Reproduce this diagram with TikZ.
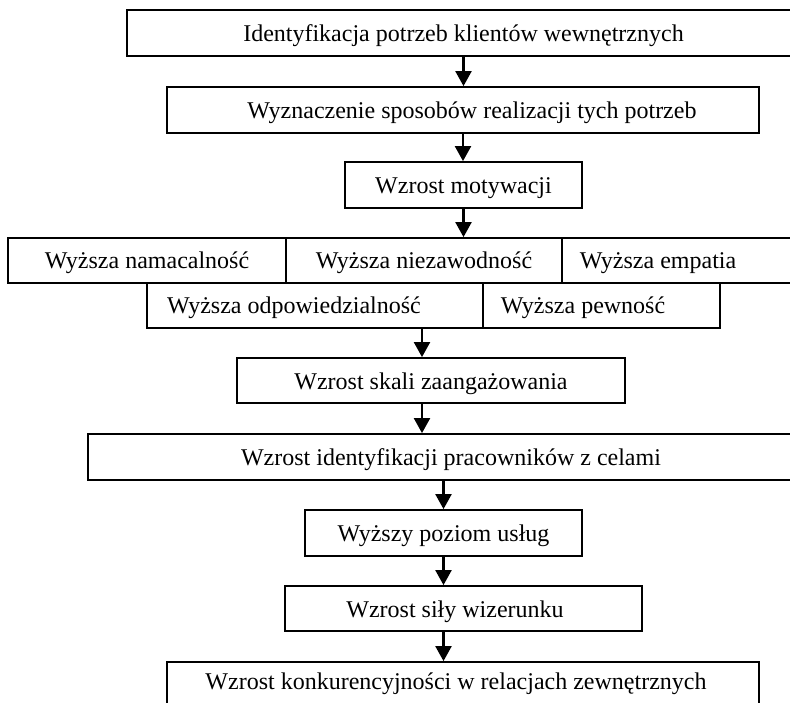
\documentclass[tikz,border=0pt]{standalone}
\usepackage{fontspec}
\setmainfont{Liberation Serif}
\usetikzlibrary{arrows.meta}
\begin{document}
\begin{tikzpicture}[x=1pt,y=-1pt,
  font=\fontsize{24}{28}\selectfont,
  box/.style={draw,line width=1.8pt,inner sep=0pt,text height=19pt,text depth=2pt},
  txt/.style={inner sep=0pt,text height=19pt,text depth=2pt},
  arr/.style={-{Triangle[length=15pt,width=16pt]},line width=2.2pt}]
\useasboundingbox (0,0) rectangle (790,703);
% boxes
\node[box,minimum width=673pt,minimum height=46pt] (b1) at (463.5,33) {Identyfikacja potrzeb klientów wewnętrznych};
\node[box,minimum width=592pt,minimum height=46pt,label={[txt,xshift=9pt]center:Wyznaczenie sposobów realizacji tych potrzeb}] (b2) at (463,110) {};
\node[box,minimum width=237pt,minimum height=46pt] (b3) at (463.5,185) {Wzrost motywacji};
% row 1
\node[box,minimum width=278pt,minimum height=45pt] (r1a) at (147,260.5) {Wyższa namacalność};
\node[box,minimum width=276pt,minimum height=45pt] (r1b) at (424,260.5) {Wyższa niezawodność};
\node[box,minimum width=238pt,minimum height=45pt,label={[txt,xshift=-23pt]center:Wyższa empatia}] (r1c) at (681,260.5) {};
% row 2
\node[box,minimum width=336pt,minimum height=45pt,label={[txt,xshift=-21pt]center:Wyższa odpowiedzialność}] (r2a) at (315,305.5) {};
\node[box,minimum width=237pt,minimum height=45pt,label={[txt,xshift=-18.5pt]center:Wyższa pewność}] (r2b) at (601.5,305.5) {};
% lower chain
\node[box,minimum width=388pt,minimum height=45pt] (b4) at (431,380.5) {Wzrost skali zaangażowania};
\node[box,minimum width=726pt,minimum height=46pt] (b5) at (451,457) {Wzrost identyfikacji pracowników z celami};
\node[box,minimum width=277pt,minimum height=46pt] (b6) at (443.5,533) {Wyższy poziom usług};
\node[box,minimum width=357pt,minimum height=45pt,label={[txt,xshift=-8.5pt]center:Wzrost siły wizerunku}] (b7) at (463.5,608.5) {};
\node[box,minimum width=592pt,minimum height=46pt,label={[txt,xshift=-7pt,yshift=4.5pt]center:Wzrost konkurencyjności w relacjach zewnętrznych}] (b8) at (463,685) {};
% connectors
\coordinate (a4) at ([xshift=-9pt]b4.north);
\draw[arr] (b1.south) -- (b1.south |- b2.north);
\draw[arr] (b2.south) -- (b2.south |- b3.north);
\draw[arr] (b3.south) -- (b3.south |- r1b.north);
\draw[arr] (a4 |- r2a.south) -- (a4);
\draw[arr] (a4 |- b4.south) -- (a4 |- b5.north);
\draw[arr] (b6.north |- b5.south) -- (b6.north);
\draw[arr] (b6.south) -- (b6.south |- b7.north);
\draw[arr] (b6.south |- b7.south) -- (b6.south |- b8.north);
\end{tikzpicture}
\end{document}
